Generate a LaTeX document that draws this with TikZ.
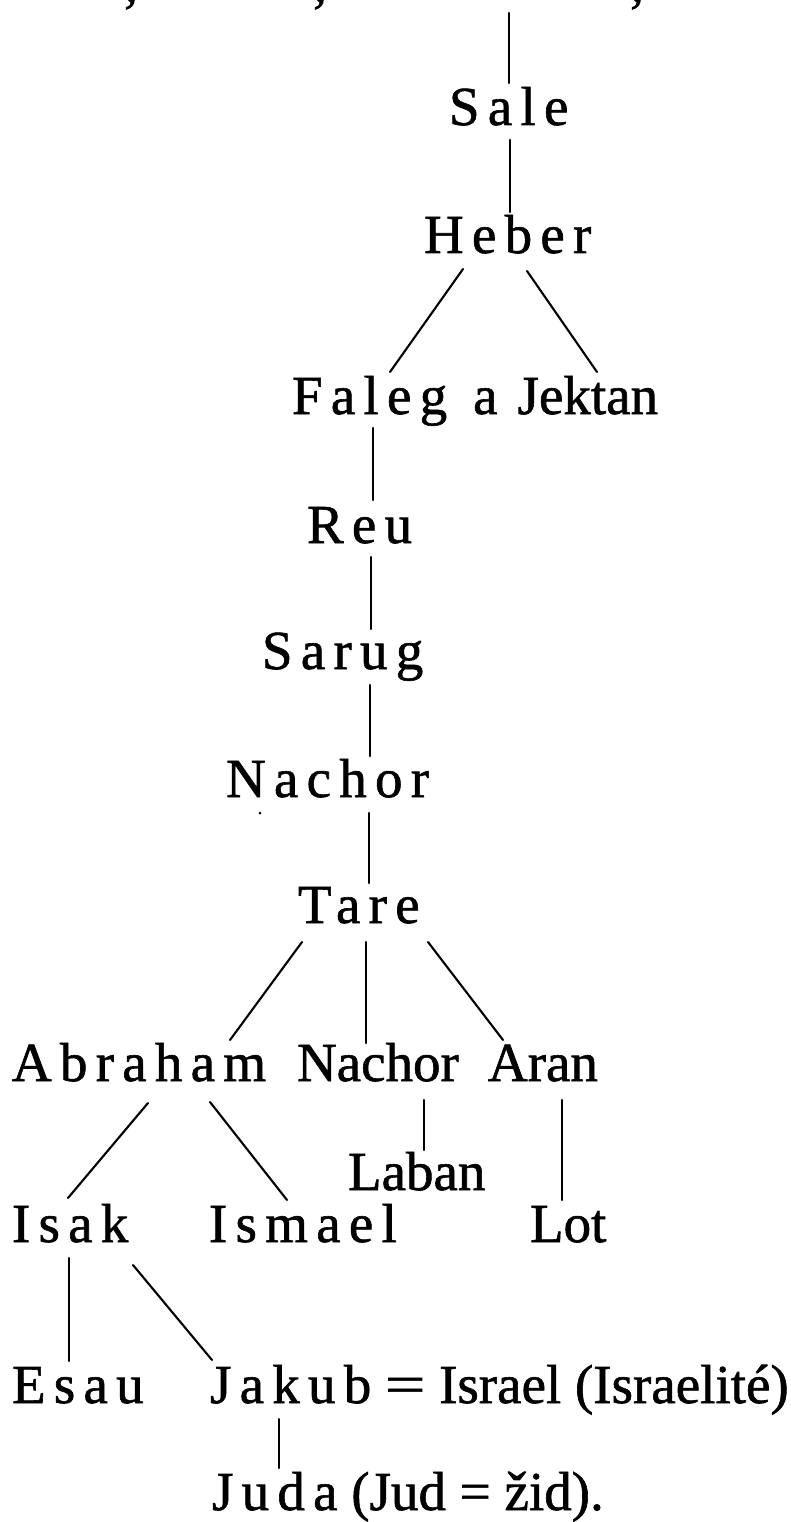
\documentclass[tikz,border=0pt]{standalone}
\usepackage{fontspec}
\usepackage{graphicx}
\setmainfont{Liberation Serif}[FakeBold=1.1]
\usetikzlibrary{calc}
\newcommand{\lsp}[1]{{\addfontfeature{LetterSpace=15}#1}}
\newcommand{\longeq}{\scalebox{1.3}[1]{=}}
\tikzset{
  person/.style={anchor=base west, inner sep=0pt, outer sep=0pt, font=\fontsize{55}{60}\selectfont},
  link/.style={line width=2.1pt, line cap=round},
}
\begin{document}
\begin{tikzpicture}[x=1pt,y=-1pt]
\useasboundingbox[fill=white] (0,0) rectangle (790,1522);
% cut-off commas of the line above
\node[person, anchor=base] (c1) at (131,1) {,};
\node[person, anchor=base] (c2) at (320,1) {,};
\node[person, anchor=base] (c3) at (637,1) {,};
\coordinate (topend) at (509,13);

\node[person] (sale) at (449,125) {\lsp{Sale}};
\node[person] (heber) at (424,253) {\lsp{Heber}};
\node[person] (faleg) at (292,414) {\lsp{Faleg}\hspace{26pt}a\hspace{20pt}Jektan};
\node[person] (reu) at (307,543) {\lsp{Reu}};
\node[person] (sarug) at (262,669) {\lsp{Sarug}};
\node[person] (nachorA) at (226,797) {\lsp{Nachor}};
\node[person] (tare) at (298,923) {\lsp{Tare}};
\node[person] (abraham) at (12,1081) {\lsp{Abraham}};
\node[person] (nachorB) at (297,1081) {Nachor};
\node[person] (aran) at (488,1081) {Aran};
\node[person] (laban) at (348,1190) {Laban};
\node[person] (isak) at (12,1242) {\lsp{Isak}};
\node[person] (ismael) at (209,1242) {\lsp{Ismael}};
\node[person] (lot) at (530,1242) {Lot};
\node[person] (esau) at (12,1403) {\lsp{Esau}};
\node[person] (jakub) at (210,1403) {\lsp{Jakub} \longeq{} Israel (Israelité)};
\node[person] (juda) at (212,1510) {\lsp{Juda} (Jud = žid).};

\fill (260,813) circle (1.5);

\draw[link] (topend) -- ($(sale.base west)+(60,-42)$);
\draw[link] ($(sale.base west)+(61,15)$) -- ($(heber.base west)+(86,-41)$);
\draw[link] ($(heber.base west)+(39,16)$) -- ($(faleg.base west)+(98,-42)$);
\draw[link] ($(heber.base west)+(103,18)$) -- ($(faleg.base west)+(305,-42)$);
\draw[link] ($(faleg.base west)+(81,14)$) -- ($(reu.base west)+(66,-43)$);
\draw[link] ($(reu.base west)+(64,14)$) -- ($(sarug.base west)+(109,-40)$);
\draw[link] ($(sarug.base west)+(108,16)$) -- ($(nachorA.base west)+(144,-41)$);
\draw[link] ($(nachorA.base west)+(143,16)$) -- ($(tare.base west)+(71,-40)$);
\draw[link] ($(tare.base west)+(4,19)$) -- ($(abraham.base west)+(218,-41)$);
\draw[link] ($(tare.base west)+(68,19)$) -- ($(nachorB.base west)+(69,-38)$);
\draw[link] ($(tare.base west)+(130,19)$) -- ($(aran.base west)+(15,-41)$);
\draw[link] ($(abraham.base west)+(136,22)$) -- ($(isak.base west)+(56,-44)$);
\draw[link] ($(abraham.base west)+(198,21)$) -- ($(ismael.base west)+(78,-42)$);
\draw[link] ($(nachorB.base west)+(127,19)$) -- ($(laban.base west)+(76,-40)$);
\draw[link] ($(aran.base west)+(74,19)$) -- ($(lot.base west)+(32,-42)$);
\draw[link] ($(isak.base west)+(57,16)$) -- ($(esau.base west)+(57,-42)$);
\draw[link] ($(isak.base west)+(121,23)$) -- ($(jakub.base west)+(2,-43)$);
\draw[link] ($(jakub.base west)+(69,16)$) -- ($(juda.base west)+(67,-42)$);
\end{tikzpicture}
\end{document}
